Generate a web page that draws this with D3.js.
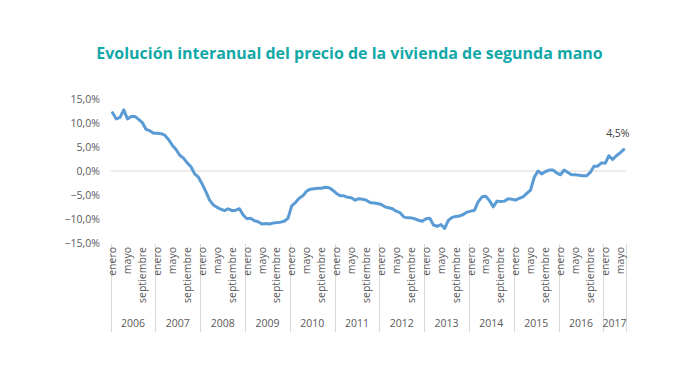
<!DOCTYPE html>
<html><head><meta charset="utf-8">
<script src="https://cdn.jsdelivr.net/npm/d3@7"></script>
<style>body{margin:0;background:#fff}svg{display:block}</style>
</head><body>
<script>
const title = "Evolución interanual del precio de la vivienda de segunda mano";
const years = ["2006","2007","2008","2009","2010","2011","2012","2013","2014","2015","2016","2017"];
const monthLabels = {0:"enero",4:"mayo",8:"septiembre"};
const yTicks = [15,10,5,0,-5,-10,-15];
// monthly year-on-year change (%), Jan 2006 - Jun 2017
const values = [
 12.2,10.9,11.2,12.8,10.9,11.4,11.4,10.8,10.1,8.7,8.4,7.9,
 7.9,7.8,7.5,6.6,5.4,4.5,3.3,2.7,1.7,0.9,-0.6,-1.3,
 -2.7,-4.3,-6.1,-7.1,-7.6,-8.0,-8.3,-7.9,-8.3,-8.2,-7.9,-9.2,
 -10.0,-9.9,-10.4,-10.6,-11.1,-11.0,-11.1,-10.9,-10.8,-10.7,-10.5,-9.9,
 -7.3,-6.6,-5.7,-5.2,-4.2,-3.8,-3.7,-3.6,-3.6,-3.4,-3.5,-4.0,
 -4.7,-5.2,-5.2,-5.5,-5.6,-6.1,-5.8,-5.9,-6.1,-6.6,-6.7,-6.8,
 -7.0,-7.5,-7.7,-7.9,-8.4,-8.7,-9.6,-9.8,-9.8,-10.0,-10.3,-10.5,
 -10.0,-9.9,-11.3,-11.6,-11.2,-12.0,-10.3,-9.7,-9.5,-9.4,-9.1,-8.6,
 -8.4,-8.2,-6.4,-5.4,-5.3,-6.2,-7.5,-6.3,-6.4,-6.3,-5.8,-5.9,
 -6.1,-5.7,-5.4,-4.7,-4.0,-1.3,0.0,-0.6,-0.1,0.2,0.2,-0.4,
 -0.8,0.2,-0.3,-0.8,-0.8,-0.9,-1.0,-1.0,-0.3,1.0,1.0,1.7,
 1.6,3.2,2.4,3.2,3.8,4.5
];
const lastLabel = "4,5%";

const W=690,H=390;
const svg=d3.select("body").append("svg").attr("width",W).attr("height",H);
const font="'Open Sans', sans-serif";
const grey="#595959";
const loc=d3.formatLocale({decimal:",",thousands:".",grouping:[3],currency:["","€"]});
const fmt=loc.format(".1%");

const idx=d3.range(values.length);
const x=d3.scaleBand().domain(idx).range([110.7,625.7]).paddingInner(0).paddingOuter(0);
const cx=i=>x(i)+x.bandwidth()/2;
const y=d3.scaleLinear().domain([-15,15]).range([242.7,99.3]);

// title
const t=svg.append("text").attr("x",349.5).attr("y",59).attr("text-anchor","middle")
 .attr("font-family",font).attr("font-weight",700).attr("font-size",16).attr("fill","#12A8A8").text(title);
const len=t.node().getComputedTextLength();
t.attr("font-size",16*507/len);

// y axis labels
const yAxis=d3.axisLeft(y).tickValues(yTicks).tickFormat(d=>fmt(d/100)).tickSize(0).tickPadding(0);
const ya=svg.append("g").attr("transform","translate(100,0)").call(yAxis);
ya.select(".domain").remove();
ya.selectAll("text").attr("font-family",font).attr("font-size",10.5).attr("fill",grey);

// zero line
svg.append("line").attr("x1",x.range()[0]).attr("x2",x.range()[1]).attr("y1",y(0)).attr("y2",y(0))
 .attr("stroke","#d9d9d9").attr("stroke-width",1);

// year separators
const yearStarts=years.map((d,k)=>k*12);
const sepX=yearStarts.map(i=>x(i)).concat([x.range()[1]]);
svg.append("g").selectAll("line").data(sepX).join("line")
 .attr("x1",d=>Math.round(d)+0.5).attr("x2",d=>Math.round(d)+0.5).attr("y1",244).attr("y2",332)
 .attr("stroke","#d9d9d9").attr("stroke-width",1);

// month labels
const mIdx=idx.filter(i=>monthLabels[i%12]!==undefined);
svg.append("g").selectAll("text").data(mIdx).join("text")
 .attr("transform",i=>`translate(${cx(i)},247) rotate(-90)`)
 .attr("dy","0.35em").attr("text-anchor","end")
 .attr("font-family",font).attr("font-size",10.5).attr("fill",grey)
 .text(i=>monthLabels[i%12]);

// year labels
svg.append("g").selectAll("text").data(years).join("text")
 .attr("x",(d,k)=>{const a=x(k*12);const b=k<years.length-1?x((k+1)*12):x.range()[1];return (a+b)/2;})
 .attr("y",327).attr("text-anchor","middle")
 .attr("font-family",font).attr("font-size",10.5).attr("fill",grey).text(d=>d);

// line
svg.append("path").datum(values)
 .attr("d",d3.line().x((d,i)=>cx(i)).y(d=>y(d)))
 .attr("fill","none").attr("stroke","#5B9BD5").attr("stroke-width",3)
 .attr("stroke-linejoin","round").attr("stroke-linecap","round");

// last label
const li=values.length-1;
svg.append("text").attr("x",cx(li)-6).attr("y",y(values[li])-12).attr("text-anchor","middle")
 .attr("font-family",font).attr("font-size",10.5).attr("fill","#404040").text(lastLabel);
</script>
</body></html>
